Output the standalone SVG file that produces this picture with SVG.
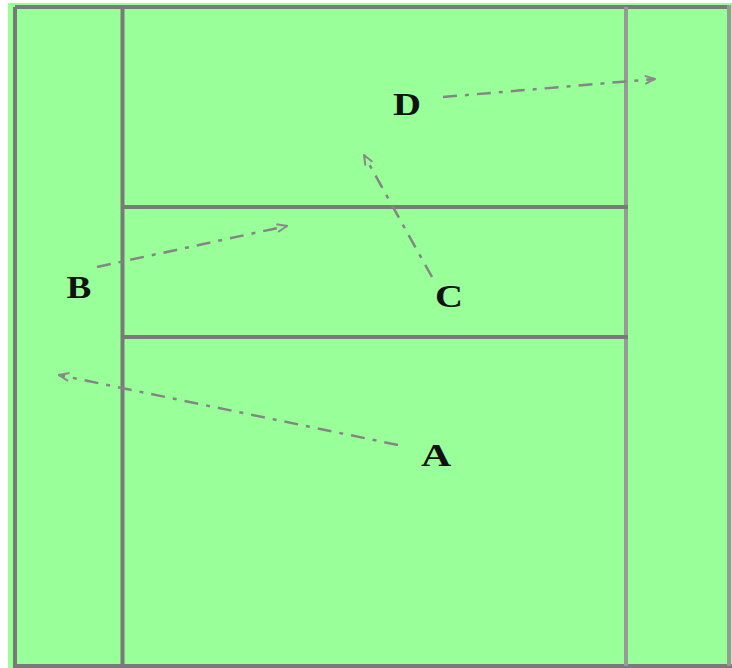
<svg xmlns="http://www.w3.org/2000/svg" width="732" height="668" viewBox="0 0 732 668">
  <style>
    .court { stroke: #7a7a7a; stroke-width: 4; fill: none; }
    .light { stroke: #999999; }
    .path { stroke: #858585; stroke-width: 2.5; fill: none; stroke-dasharray: 14 8 4 8; marker-end: url(#arrow); }
    .lbl { font-family: "Liberation Serif", "Times New Roman", serif; font-weight: bold; font-size: 31px; fill: #111111; text-anchor: middle; }
  </style>
  <defs>
    <marker id="arrow" viewBox="0 0 12 10" refX="11" refY="5" markerWidth="12" markerHeight="10" markerUnits="userSpaceOnUse" orient="auto">
      <path d="M1,1 L11,5 L1,9" fill="none" stroke="#8a8a8a" stroke-width="2"/>
    </marker>
  </defs>
  <rect x="0" y="0" width="732" height="668" fill="#ffffff"/>
  <rect x="8" y="3" width="724" height="665" fill="#99ff99"/>
  <g id="court">
    <line class="court" x1="15" y1="7" x2="729" y2="7"/>
    <line class="court" x1="15" y1="7" x2="15" y2="666"/>
    <line class="court" x1="13" y1="666" x2="732" y2="666"/>
    <line class="court light" x1="729" y1="5" x2="729" y2="666"/>
    <line class="court" x1="122.5" y1="7" x2="122.5" y2="666"/>
    <line class="court light" x1="626" y1="7" x2="626" y2="666"/>
    <line class="court" x1="122" y1="207" x2="628" y2="207"/>
    <line class="court" x1="122" y1="337" x2="628" y2="337"/>
  </g>
  <g id="connectors">
    <line class="path" x1="443" y1="97" x2="655" y2="79"/>
    <line class="path" x1="432" y1="277" x2="364" y2="155"/>
    <line class="path" x1="97" y1="267" x2="287" y2="226"/>
    <line class="path" x1="398" y1="445" x2="59" y2="375"/>
  </g>
  <g id="node-D"><text class="lbl" transform="translate(407,115) scale(1.25,1)">D</text></g>
  <g id="node-C"><text class="lbl" transform="translate(449,307) scale(1.25,1)">C</text></g>
  <g id="node-B"><text class="lbl" transform="translate(79,298) scale(1.2,1)">B</text></g>
  <g id="node-A"><text class="lbl" transform="translate(436,466) scale(1.35,1)">A</text></g>
</svg>
